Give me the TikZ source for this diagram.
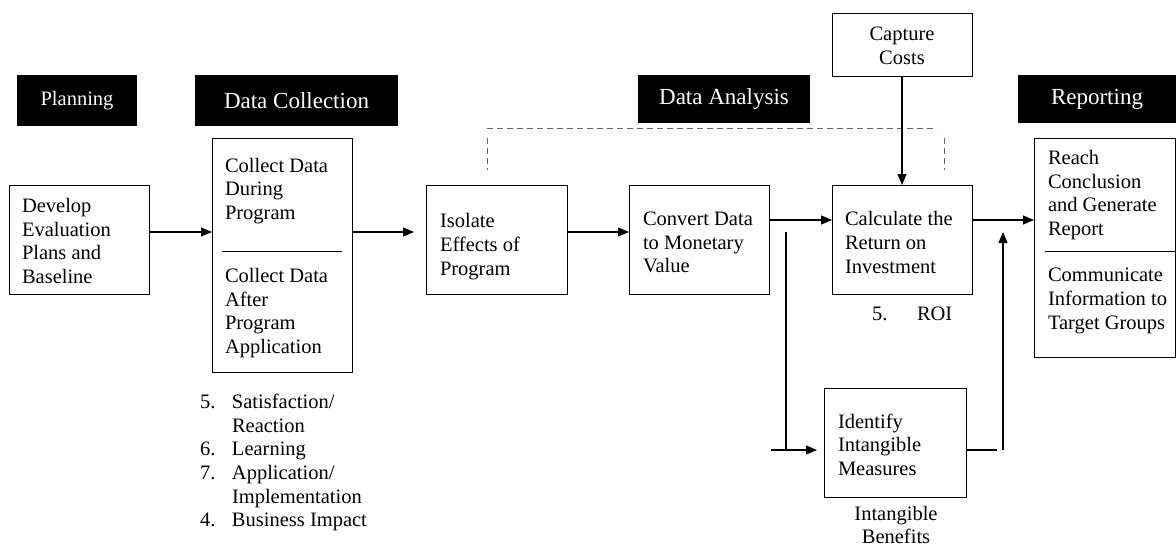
\documentclass[tikz,border=0pt]{standalone}
\usepackage{fontspec}
\setmainfont{Liberation Serif}
\usetikzlibrary{arrows.meta}
\begin{document}
\begin{tikzpicture}[x=1pt,y=-1pt,
  every node/.style={inner sep=0pt, outer sep=0pt},
  box/.style={draw, line width=1pt, minimum width=#1},
  hdr/.style={fill=black, text=white, font=\fontsize{23}{26}\selectfont},
  txt/.style={anchor=west, align=left, font=\fontsize{20.5}{23.6}\selectfont},
  ctxt/.style={align=center, font=\fontsize{20.5}{23.6}\selectfont},
  conn/.style={line width=1.1pt},
  arr/.style={line width=1.1pt, -{Triangle[length=11pt,width=9pt]}},
  dashline/.style={line width=1pt, dash pattern=on 6pt off 4pt, gray!80!black}
]
\useasboundingbox (0,0) rectangle (1176,547);
% headers
\node[hdr, minimum width=120pt, minimum height=51pt, font=\fontsize{20.5}{23}\selectfont] (hplan) at (77,100.5) {Planning};
\node[hdr, minimum width=203pt, minimum height=51pt] (hcol) at (296.5,100.5) {Data Collection};
\node[hdr, minimum width=172pt, minimum height=48pt] (hana) at (724,99) {Data Analysis};
\node[hdr, minimum width=158pt, minimum height=48pt] (hrep) at (1097,99) {Reporting};
% boxes
\node[box=140pt, minimum height=109pt] (dev) at (79,239.5) {};
\node[box=140pt, minimum height=234pt] (col) at (282,255) {};
\node[box=141pt, minimum height=109pt] (iso) at (496.5,239.5) {};
\node[box=140pt, minimum height=109pt] (conv) at (699,239.5) {};
\node[box=140pt, minimum height=109pt] (calc) at (902,239.5) {};
\node[box=141.5pt, minimum height=219pt] (reach) at (1104.75,247.5) {};
\node[box=142pt, minimum height=109pt] (idf) at (895,442.5) {};
\node[box=140pt, minimum height=63pt] (cap) at (902,44.5) {};
% dividers
\draw[line width=1pt] (222,251) -- (342,251);
\draw[line width=1pt] (1045,251) -- (1176,251);
% texts
\node[txt] (tdev) at (22,241) {Develop\\Evaluation\\Plans and\\Baseline};
\node[txt] (tcol1) at (225,191) {Collect Data\\During\\Program};
\node[txt] (tcol2) at (225,313) {Collect Data\\After\\Program\\Application};
\node[txt] (tiso) at (440,246.5) {Isolate\\Effects of\\Program};
\node[txt] (tconv) at (643,242.5) {Convert Data\\to Monetary\\Value};
\node[txt] (tcalc) at (845,242.5) {Calculate the\\Return on\\Investment};
\node[txt] (trea1) at (1048,195) {Reach\\Conclusion\\and Generate\\Report};
\node[txt] (trea2) at (1048,301) {Communicate\\Information to\\Target Groups};
\node[txt] (tidf) at (838,444.5) {Identify\\Intangible\\Measures};
\node[ctxt] (tcap) at (902,46) {Capture\\Costs};
\node[txt] (troi5) at (872,314) {5.};
\node[txt] (troi) at (917,314) {ROI};
\node[ctxt] (tben) at (896,525) {Intangible\\Benefits};
\node[anchor=west, font=\fontsize{20.5}{23.6}\selectfont] (tlist) at (200,463) {%
  \begin{tabular}{@{}p{32pt}@{}l@{}}
  5. & Satisfaction/\\
     & Reaction\\
  6. & Learning\\
  7. & Application/\\
     & Implementation\\
  4. & Business Impact
  \end{tabular}};
% dashed bracket
\draw[dashline] (487,128) -- (937,128);
\draw[dashline] (487,138) -- (487,170);
\draw[dashline] (944.5,138) -- (944.5,170);
% connectors
\coordinate (r1) at (0,232);
\coordinate (r2) at (0,220);
\draw[arr] (dev.east|-r1) -- (col.west|-r1);
\draw[arr, shorten >=12pt] (col.east|-r1) -- (iso.west|-r1);
\draw[arr] (iso.east|-r1) -- (conv.west|-r1);
\draw[arr] (conv.east|-r2) -- (calc.west|-r2);
\draw[arr] (calc.east|-r2) -- (reach.west|-r2);
\draw[arr] (cap.south) -- (calc.north);
\coordinate (b1) at (786,232);
\coordinate (b2) at (786,450);
\coordinate (b0) at (771,450);
\draw[conn] (b1) -- (b2);
\draw[arr, shorten >=7pt] (b0) -- (idf.west|-b0);
\coordinate (u0) at (997,450);
\coordinate (u1) at (1003,450);
\coordinate (u2) at (1003,232);
\draw[conn] (idf.east|-u0) -- (u0);
\draw[arr] (u1) -- (u2);
\end{tikzpicture}
\end{document}
